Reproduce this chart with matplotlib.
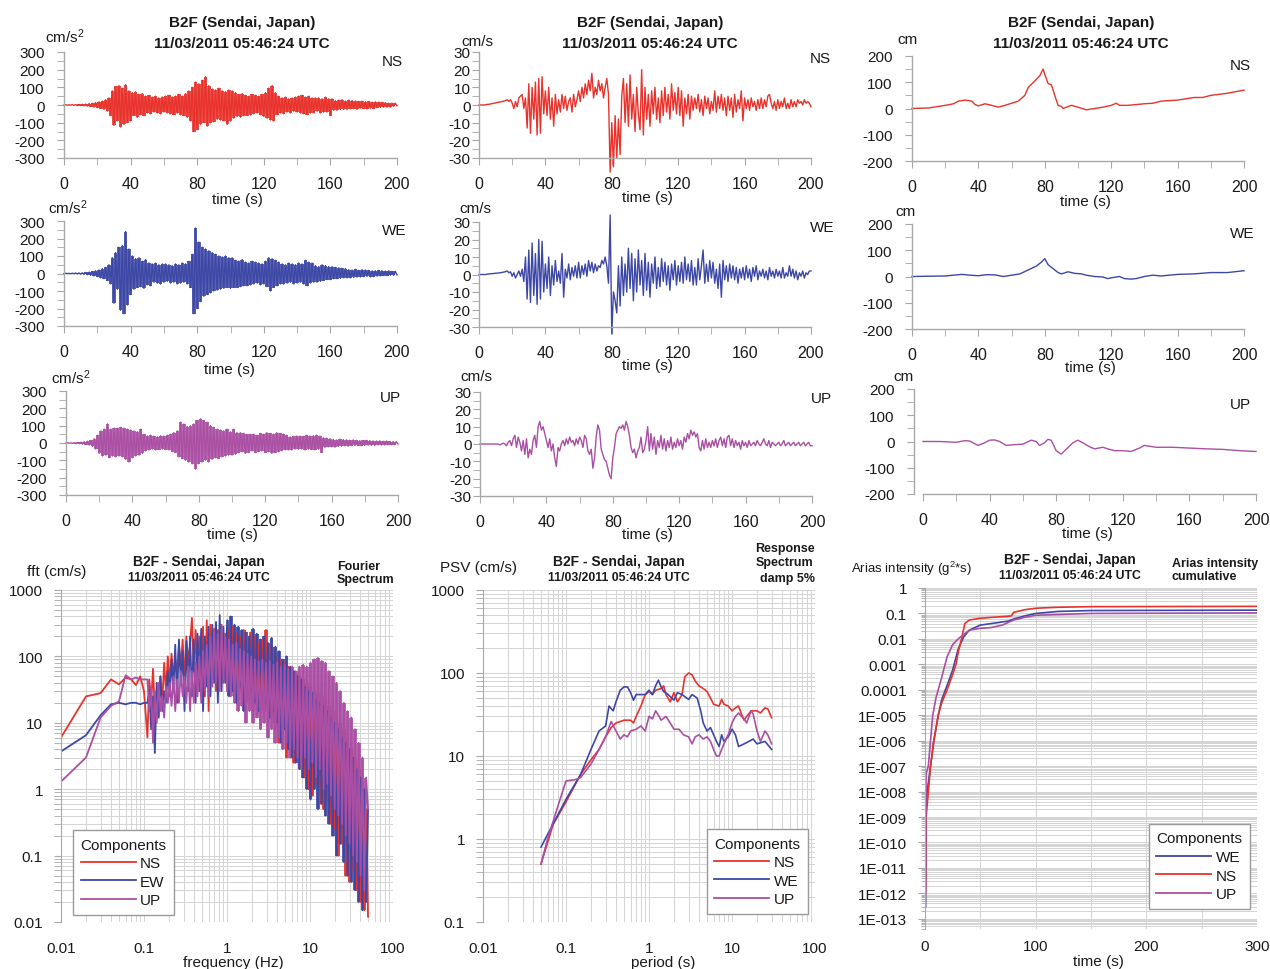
import matplotlib.pyplot as plt
import numpy as np
from matplotlib.ticker import MultipleLocator, LogLocator, NullFormatter, FixedLocator

plt.rcParams['font.family'] = ['Liberation Sans', 'DejaVu Sans']
plt.rcParams['mathtext.default'] = 'regular'
plt.rcParams['axes.unicode_minus'] = False

W, H = 1270, 970
RED = '#e8322b'
BLUE = '#3d48a6'
PURPLE = '#aa4fa3'
GRAY = '#a8a8a8'
TXT = '#1a1a1a'

############################ Data: acceleration (cm/s2), 1 s steps ############################
t_sec = np.arange(201)

acc_ns = [0, 1, -1, 1, -1, 2, -2, 2, -3, 3,
          -3, 4, -5, 5, -6, 8, -9, 10, -12, 14,
          -15, 18, -20, 22, -25, 30, -35, 40, -60, 80,
          -115, 105, -90, 110, -125, 95, -110, 115, -100, 80,
          -90, 70, -60, 75, -70, 60, -55, 65, -60, 50,
          -45, 55, -50, 45, -40, 50, -45, 40, -50, 45,
          -40, 50, -45, 55, -50, 45, -55, 50, -45, 60,
          -55, 50, -60, 65, -70, 80, -90, 100, -150, 130,
          -140, 120, -110, 140, -100, 160, -120, 110, -100, 90,
          -95, 85, -80, 95, -85, 80, -90, 75, -110, 85,
          -90, 80, -75, 70, -65, 60, -70, 65, -60, 55,
          -60, 50, -55, 60, -50, 55, -45, 50, -55, 60,
          -65, 70, -75, 95, -85, 110, -90, 70, -55, 50,
          -45, 40, -50, 45, -40, 35, -45, 40, -35, 45,
          -40, 50, -45, 55, -50, 45, -55, 50, -45, 40,
          -45, 40, -35, 40, -45, 35, -40, 45, -40, 35,
          -60, 35, -30, 25, -30, 28, -25, 30, -25, 22,
          -25, 28, -22, 25, -20, 22, -25, 20, -18, 22,
          -20, 18, -22, 20, -18, 16, -20, 18, -15, 16,
          -14, 15, -12, 14, -12, 10, -12, 10, -8, 10,
          -5]

acc_we = [0, 1, -1, 1, -2, 2, -2, 3, -3, 3,
          -4, 4, -5, 6, -7, 8, -10, 12, -14, 16,
          -18, 20, -24, 28, -30, 35, -40, 50, -60, 90,
          -170, 120, -90, 150, -210, 160, -230, 240, -180, 140,
          -120, 100, -90, 85, -80, 90, -75, 70, -85, 80,
          -65, 60, -70, 55, -50, 60, -55, 50, -60, 55,
          -50, 55, -45, 50, -55, 45, -50, 55, -60, 50,
          -55, 60, -50, 55, -60, 70, -80, 110, -230, 260,
          -200, 180, -160, 150, -130, 140, -120, 130, -110, 120,
          -100, 110, -95, 100, -90, 95, -85, 100, -80, 90,
          -85, 90, -80, 75, -80, 70, -75, 80, -70, 65,
          -70, 60, -65, 70, -60, 65, -55, 60, -65, 55,
          -60, 70, -75, 90, -100, 85, -80, 75, -70, 65,
          -60, 55, -60, 50, -55, 60, -50, 55, -60, 50,
          -55, 60, -50, 55, -60, 75, -70, 65, -55, 60,
          -50, 45, -50, 40, -45, 50, -40, 45, -35, 40,
          -35, 40, -30, 35, -30, 32, -28, 30, -25, 28,
          -25, 22, -25, 20, -22, 24, -20, 18, -20, 22,
          -18, 20, -16, 18, -20, 15, -18, 16, -15, 18,
          -14, 16, -12, 14, -12, 15, -10, 12, -10, 12,
          -8]

acc_up = [0, 1, -1, 1, -2, 2, -3, 3, -4, 5,
          -6, 7, -9, 10, -12, 15, -20, 25, -35, 45,
          -60, 70, -75, 80, -70, 110, -85, 80, -75, 85,
          -80, 85, -75, 90, -80, 85, -95, 80, -110, 75,
          -85, 70, -75, 65, -70, 80, -60, 50, -45, 40,
          -40, 45, -35, 40, -40, 35, -38, 42, -35, 40,
          -38, 45, -40, 50, -50, 60, -55, 70, -80, 120,
          -90, 110, -100, 95, -110, 100, -120, 110, -150, 130,
          -120, 140, -110, 130, -100, 120, -110, 100, -95, 90,
          -85, 80, -90, 75, -80, 70, -75, 80, -70, 65,
          -70, 80, -65, 60, -55, 60, -50, 55, -60, 50,
          -55, 50, -45, 50, -55, 45, -50, 55, -45, 50,
          -55, 60, -50, 55, -60, 50, -55, 60, -50, 55,
          -45, 50, -40, 45, -40, 35, -40, 38, -35, 40,
          -35, 40, -35, 38, -40, 45, -35, 40, -38, 42,
          -40, 45, -35, 40, -55, 30, -25, 28, -22, 25,
          -22, 20, -24, 18, -20, 22, -18, 20, -16, 18,
          -18, 16, -15, 18, -14, 16, -15, 14, -16, 15,
          -14, 15, -12, 14, -13, 12, -14, 12, -10, 13,
          -12, 10, -11, 12, -10, 9, -10, 8, -9, 8,
          -6]

############################ Data: velocity (cm/s), 1 s steps ############################
vel_ns = [0, 0, 0, 0, 0.2, 0.3, 0.4, 0.6, 0.8, 1,
          1.2, 1.4, 1.6, 1.8, 2, 2.2, 2.5, 3, 2, 3,
          1, -2, 2, -1, 4, 5, 6, -2, 4, -13,
          12, -16, 10, -8, 13, -17, 15, -16, 16, -5,
          8, -6, 10, -8, 4, -12, 6, -5, 3, -4,
          6, -2, 5, -3, 2, 4, -4, 6, -1, 3,
          8, 2, 10, 4, 12, 6, 14, 8, 18, 4,
          10, 6, 14, 8, 12, 4, 10, 15, 6, -38,
          -10, -35, -6, -30, -8, -28, 5, 15, -10, 12,
          -12, 17, -8, 6, -15, 10, -5, -14, 20, -17,
          10, -8, 6, -12, 8, -5, 10, -8, 4, -10,
          8, -6, 10, -4, 6, -8, 12, -3, 7, -5,
          10, -6, 8, -12, 4, -5, 6, -8, 5, -3,
          4, -2, 6, -4, 3, -6, 5, -2, 4, -5,
          2, -3, 8, -4, 5, -2, 6, -3, 4, -6,
          5, -3, 4, -7, 6, -4, 3, -2, 8, -9,
          4, -2, 3, -3, 4, -1, 2, -3, 3, -2,
          4, -2, 3, -1, 5, 6, 1, -2, 2, -3,
          3, -2, 2, -1, 4, -2, 1, -2, 3, -1,
          2, -1, 3, 1, 2, 0, 3, 1, 2, 1,
          -1]

vel_we = [0, 0, 0, 0, 0, 0.2, 0.3, 0.4, 0.5, 0.6,
          0.7, 0.8, 0.9, 1, 1.2, 1.4, 1.6, 2, 1, 1.5,
          -1, 1, -2, 0, 2, -1, 3, -4, 10, -14,
          14, -16, 18, -12, 12, -17, 20, -14, 19, -10,
          6, -8, 10, -12, 5, -6, 8, -4, 2, -5,
          12, -13, 3, -2, 6, -3, 4, -1, 5, -2,
          7, -2, 5, 0, 6, -1, 8, 2, 7, 1,
          6, 2, 5, 4, 8, 6, 10, 5, -5, 34,
          -34, -10, -15, -22, 5, -18, 10, -12, 6, -10,
          15, -8, 12, -15, 9, -10, 14, -6, 8, -12,
          12, -9, 7, -13, 6, -5, 10, -8, 4, -7,
          9, -4, 7, -6, 5, -9, 6, -3, 8, -6,
          5, -4, 7, -5, 10, -3, 6, -4, 8, -6,
          4, -6, 9, -3, 5, 14, -5, 6, -4, 8,
          -2, 7, -5, 3, -8, 6, -13, 8, -3, 5,
          -4, 6, -2, 5, -3, 4, -5, 3, -2, 4,
          -3, 5, -2, 3, -4, 4, -1, 5, -3, 2,
          -1, 3, -2, 2, -3, 4, -1, 2, -2, 3,
          -1, 2, -2, 4, -2, 1, -1, 5, -1, 3,
          -2, 2, -3, 1, -1, 2, -2, 1, 0, 2,
          2]

vel_up = [0, 0, 0, 0, 0, 0, 0, 0, 0, 0,
          0, 0, -0.5, 0, 0.5, 0, -1, 1, 2, -1,
          3, 5, -2, 4, 1, -4, 2, -6, 3, -8,
          -3, -6, 2, 5, -2, 10, 13, 8, 10, 6,
          2, -2, 3, -4, 0, -8, -13, -2, -4, 0,
          2, -1, 3, 0, 4, 1, 2, -1, 3, 0,
          4, 2, -2, 5, 3, -4, -6, -3, -14, -8,
          4, 11, 8, -3, -6, -9, -10, -14, -18, -20,
          -8, -2, 6, 8, 10, 9, 11, 8, 13, 10,
          5, -2, -5, -3, -8, -4, -2, 4, -5, -3,
          2, 10, -4, 6, -3, 4, -6, 2, -2, 5,
          -3, 3, -4, 2, -2, 4, -3, 1, -2, 3,
          -1, 2, -3, 4, 1, 6, 3, 8, 5, 7,
          4, 6, -2, -4, 2, -3, 3, -2, 1, -2,
          2, -1, 3, -2, 2, 4, -1, 3, -2, 4,
          5, -1, 3, -2, 2, -1, 1, -3, 2, -1,
          1, -2, 2, -1, 0, 1, -1, 2, 0, -1,
          1, 3, 0, -1, 2, -2, 1, 0, -1, 0,
          1, -1, 0, 2, -1, 0, 1, -1, 0, 1,
          -1, 0, 1, -1, 0, 1, -1, 0, 1, -1,
          -1]

############################ Data: displacement (cm) ############################
t_dns = [0, 10, 20, 25, 28, 32, 36, 38, 40, 44, 48, 52, 56, 60, 64, 68, 70, 74, 77, 79,
         80, 82, 84, 86, 88, 90, 91, 93, 96, 100, 105, 110, 115, 120, 123, 125, 130, 140,
         145, 150, 160, 170, 175, 180, 190, 200]
d_ns = [0, 2, 12, 18, 28, 32, 28, 15, 10, 18, 12, 5, 12, 20, 28, 50, 80, 105, 125, 150,
        130, 95, 90, 50, 12, 8, 0, 5, 12, 5, -5, 0, 5, 12, 20, 12, 12, 18,
        20, 28, 32, 42, 42, 50, 58, 70]

t_dwe = [0, 20, 30, 35, 40, 45, 50, 55, 60, 65, 70, 75, 78, 80, 82, 85, 88, 90, 94, 98,
         102, 105, 110, 115, 118, 120, 125, 128, 132, 135, 140, 145, 150, 160, 170, 180, 190, 200]
d_we = [0, 2, 8, 5, 3, 7, 6, 0, 5, 10, 25, 40, 55, 68, 45, 30, 15, 10, 18, 12,
        10, 5, 0, -2, -8, -5, 0, -8, -10, -8, 0, 5, 2, 8, 10, 15, 15, 22]

t_dup = [0, 10, 20, 25, 28, 33, 36, 40, 43, 46, 50, 55, 60, 65, 68, 70, 73, 75, 77, 80,
         83, 86, 90, 93, 96, 100, 103, 108, 112, 115, 120, 125, 130, 133, 140, 150, 160,
         170, 180, 190, 200]
d_up = [0, 0, -3, 3, 2, -15, -8, 5, 6, 0, -15, -12, -10, 5, 0, -15, -5, 8, 5, -35,
        -48, -30, -5, 5, -5, -20, -28, -22, -30, -35, -35, -38, -25, -15, -22, -22, -25,
        -28, -30, -35, -38]

############################ Data: Fourier spectrum (cm/s) ############################
f_low = [0.01, 0.02, 0.03, 0.04, 0.05, 0.06, 0.07, 0.08, 0.09, 0.10]
f_high = np.geomspace(0.11, 50, 120)   # frequency grid of the sampled values below

fft_ns_low = [6, 25, 28, 45, 38, 48, 45, 37, 50, 30]
fft_ew_low = [3.7, 6.5, 13, 19, 20, 19, 20, 20, 19, 20]
fft_up_low = [1.3, 3, 12, 18, 21, 52, 45, 48, 45, 45]

fft_ns_high = [6, 45, 20, 65, 15, 30, 12, 50, 20, 80, 30, 100,
               40, 110, 50, 90, 60, 150, 70, 180, 40, 200, 80, 150, 380,
               60, 250, 40, 200, 30, 280, 25, 350, 15, 300, 40, 260, 30, 250, 50, 300, 40, 220,
               30, 250, 35, 280, 25, 220, 40, 200, 30, 250, 20, 180, 35, 230,
               15, 200, 25, 160, 20, 180, 15, 250, 20, 150, 12, 130, 10,
               100, 5, 90, 8, 80, 3, 70, 5, 60, 2.5, 55, 3, 50, 2, 45, 1.5, 40,
               1, 35, 0.8, 30, 1.2, 28, 0.6, 25, 0.5, 22, 0.7, 18, 0.3,
               15, 0.25, 12, 0.1, 10, 0.15, 8, 0.05, 6,
               0.04, 4, 0.06, 3, 0.03, 2, 0.02, 1.2, 0.015, 0.5, 0.012]
fft_ew_high = [20, 30, 8, 25, 3.5, 40, 12, 50, 15, 30, 20, 60,
               25, 90, 30, 150, 20, 180, 40, 120, 15, 170, 30, 200, 25,
               180, 20, 220, 30, 260, 15, 200, 35, 280, 25, 300, 40, 330, 20, 420, 30, 280, 40,
               350, 25, 400, 30, 300, 20, 280, 35, 250, 15, 230, 40, 200, 30,
               260, 20, 220, 15, 180, 25, 200, 20, 160, 12, 190, 15, 140,
               10, 120, 5, 90, 8, 100, 4, 70, 3, 60, 2.5, 50, 2, 45, 1.5, 35, 1,
               30, 0.7, 28, 1, 22, 0.5, 20, 0.6, 18, 0.4, 15, 0.3, 12,
               0.2, 10, 0.1, 8, 0.15, 6, 0.08, 5, 0.05,
               4, 0.04, 3, 0.03, 2, 0.02, 1.5, 0.015, 1, 0.02, 0.5]
fft_up_high = [45, 15, 35, 5, 30, 10, 40, 15, 25, 12, 35, 20,
               40, 18, 50, 15, 45, 20, 60, 25, 50, 20, 70, 15, 60,
               20, 80, 25, 100, 20, 120, 30, 150, 25, 200, 35, 250, 40, 220, 30, 260, 45, 200,
               30, 180, 25, 150, 20, 160, 15, 130, 18, 120, 10, 110, 15, 100,
               10, 90, 12, 85, 8, 90, 10, 80, 6, 85, 8, 75, 5,
               80, 6, 70, 4, 75, 5, 65, 3, 70, 4, 60, 3, 70, 2, 75, 3, 70,
               2, 80, 2.5, 90, 1.5, 95, 2, 85, 1, 80, 1.2, 60, 0.8,
               50, 0.5, 40, 0.4, 30, 0.3, 20, 0.2, 15,
               0.15, 12, 0.1, 8, 0.08, 5, 0.05, 3, 0.03, 1.5, 0.5]

############################ Data: response spectrum PSV (cm/s) ############################
T_ns = [0.05, 0.07, 0.1, 0.15, 0.2, 0.25, 0.3, 0.35, 0.4, 0.5, 0.6, 0.65, 0.7, 0.8, 0.9, 1.0,
        1.1, 1.2, 1.4, 1.5, 1.6, 1.8, 2.0, 2.2, 2.5, 2.7, 3.0, 3.3, 3.6, 4, 4.5, 5, 5.5, 6,
        7, 7.5, 8, 9, 10, 11, 12, 13, 14, 15, 17, 20, 22, 25, 27, 30]
psv_ns = [0.5, 1.5, 2.8, 6, 9, 12, 17, 22, 25, 27, 27, 25, 30, 40, 55, 60,
          55, 62, 65, 70, 55, 45, 58, 45, 55, 90, 100, 95, 80, 70, 65, 60, 50, 42,
          40, 48, 42, 40, 35, 38, 40, 32, 27, 30, 35, 35, 33, 38, 37, 29]
T_we = [0.05, 0.1, 0.15, 0.2, 0.25, 0.3, 0.33, 0.37, 0.4, 0.45, 0.5, 0.55, 0.6, 0.65, 0.7,
        0.8, 0.9, 1.0, 1.1, 1.2, 1.3, 1.4, 1.5, 1.7, 2.0, 2.2, 2.5, 3.0, 3.3, 3.8, 4.2, 4.5,
        5, 5.5, 6, 6.5, 7, 7.5, 8, 9, 10, 11, 12, 14, 16, 18, 20, 25, 30]
psv_we = [0.8, 3, 6, 12, 20, 23, 40, 35, 45, 62, 68, 68, 58, 47, 55,
          55, 55, 62, 55, 70, 82, 68, 60, 55, 47, 58, 55, 48, 55, 50, 35, 25,
          20, 22, 18, 15, 13, 18, 15, 17, 21, 18, 13, 14, 15, 16, 14, 15, 12]
T_up = [0.05, 0.06, 0.08, 0.1, 0.13, 0.15, 0.2, 0.25, 0.3, 0.35, 0.4, 0.45, 0.5, 0.55, 0.6,
        0.7, 0.8, 0.9, 1.0, 1.1, 1.2, 1.3, 1.4, 1.6, 1.8, 2.0, 2.3, 2.6, 3, 3.3, 3.6, 4, 4.5,
        5, 5.5, 6, 6.5, 7, 7.5, 8, 9, 10, 11, 12, 13, 14, 15, 17, 18, 20, 22, 25, 27, 30]
psv_up = [0.5, 1, 2.5, 5, 5.2, 5.5, 8, 12, 17, 26, 20, 16, 18, 17, 20,
          21, 23, 20, 30, 28, 35, 31, 27, 30, 25, 21, 21, 18, 17, 14, 17, 18, 16,
          17, 15, 12, 10, 10, 12, 14, 18, 25, 30, 33, 30, 28, 25, 35, 32, 20, 15, 20, 18, 14]

############################ Data: Arias intensity (g2*s) ############################
t_ar_ns = [0.5, 1, 2, 5, 8, 12, 15, 20, 25, 28, 30, 33, 36, 40, 50, 60, 70, 78, 80, 90,
           100, 120, 150, 300]
ar_ns = [1e-12, 1e-9, 3e-9, 1e-7, 1e-6, 1e-5, 3e-5, 1e-4, 4e-4, 1e-3, 3e-3, 1e-2, 4e-2,
         5.5e-2, 6.5e-2, 7e-2, 7.5e-2, 8e-2, 1.1e-1, 1.4e-1, 1.6e-1, 1.75e-1, 1.85e-1, 1.9e-1]
t_ar_we = [0.5, 1, 2, 5, 8, 12, 15, 20, 25, 30, 35, 40, 50, 60, 75, 80, 90, 100, 120, 150, 300]
ar_we = [3e-13, 3e-9, 1e-8, 1e-7, 1e-6, 1e-5, 4e-5, 1.5e-4, 6e-4, 4e-3, 1.2e-2, 2.2e-2,
         3.5e-2, 4e-2, 5e-2, 6e-2, 8e-2, 1e-1, 1.2e-1, 1.3e-1, 1.35e-1]
t_ar_up = [0.3, 1, 3, 5, 7, 10, 12, 15, 20, 25, 30, 35, 40, 50, 60, 70, 80, 90, 100, 150, 300]
ar_up = [3e-13, 5e-8, 1e-7, 1e-6, 1e-5, 5e-5, 1e-4, 3e-4, 2e-3, 6e-3, 1e-2, 1.5e-2, 2.2e-2,
         2.6e-2, 2.8e-2, 3.5e-2, 5.5e-2, 7e-2, 8.5e-2, 1e-1, 1.05e-1]

ar_ticks = [1, 0.1, 0.01, 0.001, 0.0001] + [10.0 ** -k for k in range(5, 14)]
ar_labels = ['1', '0.1', '0.01', '0.001', '0.0001'] + ['1E-%03d' % k for k in range(5, 14)]

##########################################################################################

fig = plt.figure(figsize=(W / 100, H / 100), dpi=100)


def add_ax(x0, x1, ytop, ybot):
    return fig.add_axes([x0 / W, 1 - ybot / H, (x1 - x0) / W, (ybot - ytop) / H])


def ftext(x, y, s, **kw):
    kw.setdefault('color', TXT)
    fig.text(x / W, 1 - y / H, s, **kw)


def dense_band(ax, x, vals, col, where=None):
    # samples alternate up/down; fill between neighbouring samples so the trace reads as a solid band
    v = np.asarray(vals, dtype=float)
    x = np.asarray(x, dtype=float)
    ax.fill_between(x[:-1], np.minimum(v[:-1], v[1:]), np.maximum(v[:-1], v[1:]),
                    where=where, step='post', color=col, lw=0, alpha=0.85)


def style_ts(ax, ymax, ymaj, ymin, ypad, xlo=0):
    ax.set_xlim(xlo, 200)
    ax.set_ylim(-ymax, ymax)
    ax.patch.set_alpha(0)
    for s in ['top', 'right']:
        ax.spines[s].set_visible(False)
    for s in ['left', 'bottom']:
        ax.spines[s].set_color(GRAY)
        ax.spines[s].set_linewidth(1)
    ax.spines['bottom'].set_bounds(0, 200)
    ax.xaxis.set_major_locator(MultipleLocator(40))
    ax.xaxis.set_minor_locator(MultipleLocator(20))
    ax.yaxis.set_major_locator(MultipleLocator(ymaj))
    ax.yaxis.set_minor_locator(MultipleLocator(ymin))
    ax.tick_params(which='both', colors=GRAY, labelcolor=TXT, direction='out')
    ax.tick_params(axis='x', which='both', length=5, labelsize=11.5, pad=8)
    ax.tick_params(axis='y', which='both', length=5, labelsize=11, pad=ypad)


# ---------------- time series panels ----------------
acc_boxes = [(64, 397, 53, 159), (64, 397, 222, 327), (66, 398, 392, 496)]
vel_boxes = [(479, 811, 53, 159), (479, 811, 223, 328), (480, 812, 393, 497)]
dis_boxes = [(912, 1244, 57, 162), (912, 1244, 225, 330), (914, 1256, 390, 495)]

acc_series = [acc_ns, acc_we, acc_up]
vel_series = [vel_ns, vel_we, vel_up]
dis_series = [(t_dns, d_ns), (t_dwe, d_we), (t_dup, d_up)]
colors = [RED, BLUE, PURPLE]
comp = ['NS', 'WE', 'UP']

for i in range(3):
    ax = add_ax(*acc_boxes[i])
    dense_band(ax, t_sec, acc_series[i], colors[i])
    ax.plot(t_sec, acc_series[i], color=colors[i], lw=1.0, clip_on=False)
    style_ts(ax, 300, 100, 50, 9)

    ax = add_ax(*vel_boxes[i])
    ax.plot(t_sec, vel_series[i], color=colors[i], lw=1.0, clip_on=False)
    style_ts(ax, 30, 10, 5, 1)

    ax = add_ax(*dis_boxes[i])
    ax.plot(dis_series[i][0], dis_series[i][1], color=colors[i], lw=1.0, clip_on=False)
    style_ts(ax, 200, 100, 50, 9, xlo=-5.4 if i == 2 else 0)

# unit labels, component names, axis labels
acc_unit = [(65, 37), (68, 208), (71, 378)]
vel_unit = [(477, 42), (475, 209), (476, 377)]
dis_unit = [(907, 40), (905, 212), (903, 377)]
acc_comp = [(392, 62), (394, 231), (390, 398)]
vel_comp = [(820, 59), (822, 228), (821, 399)]
dis_comp = [(1240, 66), (1242, 234), (1240, 405)]
acc_xl = [(237, 200), (229, 370), (232, 535)]
vel_xl = [(647, 198), (647, 366), (647, 535)]
dis_xl = [(1085, 202), (1090, 368), (1087, 534)]

for i in range(3):
    ftext(*acc_unit[i], 'cm/s$^2$', fontsize=11, ha='center', va='center')
    ftext(*vel_unit[i], 'cm/s', fontsize=11, ha='center', va='center')
    ftext(*dis_unit[i], 'cm', fontsize=11, ha='center', va='center')
    for pos in (acc_comp[i], vel_comp[i], dis_comp[i]):
        ftext(*pos, comp[i], fontsize=11, ha='center', va='center')
    for pos in (acc_xl[i], vel_xl[i], dis_xl[i]):
        ftext(*pos, 'time (s)', fontsize=11, ha='center', va='center')

for cx in (242, 650, 1081):
    ftext(cx, 23, 'B2F (Sendai, Japan)', fontsize=11, fontweight='bold', ha='center', va='center')
    ftext(cx, 44, '11/03/2011 05:46:24 UTC', fontsize=11, fontweight='bold', ha='center', va='center')


# ---------------- bottom panels ----------------
def style_log(ax):
    ax.patch.set_alpha(0)
    for s in ['top', 'right', 'bottom']:
        ax.spines[s].set_visible(False)
    ax.spines['left'].set_color(GRAY)
    ax.grid(True, which='both', color='#d4d4d4', lw=0.7)
    ax.set_axisbelow(True)
    ax.tick_params(which='both', colors=GRAY, labelcolor=TXT)
    ax.tick_params(axis='x', which='both', length=0, labelsize=11, pad=14)
    ax.tick_params(axis='y', which='both', length=5, labelsize=11, pad=8)


def legend(ax, labels, handles, anchor, loc):
    leg = ax.legend(handles, labels, title='Components', loc=loc, bbox_to_anchor=anchor,
                    fontsize=11, title_fontsize=11, frameon=True, fancybox=False,
                    handlelength=3.6, handletextpad=0.3, borderpad=0.5, labelspacing=0.3,
                    borderaxespad=0, alignment='left', framealpha=1)
    leg.get_frame().set_edgecolor('#9a9a9a')
    leg.get_frame().set_linewidth(1)
    for txt in leg.get_texts():
        txt.set_color(TXT)
    leg.get_title().set_color(TXT)
    for ln in leg.get_lines():
        ln.set_linewidth(1.3)


# Fourier spectrum
ax = add_ax(61, 393, 591, 923)
f_all = np.concatenate([f_low, f_high])
dense = f_all[:-1] >= 1.0   # above 1 Hz the spectrum lines are packed into a solid band
handles = []
for vals, col in ((fft_ns_low + fft_ns_high, RED),
                  (fft_ew_low + fft_ew_high, BLUE),
                  (fft_up_low + fft_up_high, PURPLE)):
    dense_band(ax, f_all, vals, col, where=dense)
    ln, = ax.plot(f_all, vals, color=col, lw=1.3)
    handles.append(ln)
ax.set_xscale('log')
ax.set_yscale('log')
ax.set_xlim(0.01, 100)
ax.set_ylim(0.01, 1000)
ax.set_xticks([0.01, 0.1, 1, 10, 100], ['0.01', '0.1', '1', '10', '100'])
ax.set_yticks([0.01, 0.1, 1, 10, 100, 1000], ['0.01', '0.1', '1', '10', '100', '1000'])
style_log(ax)
legend(ax, ['NS', 'EW', 'UP'], handles, (0.036, 0.021), 'lower left')
ftext(233, 963, 'frequency (Hz)', fontsize=11, ha='center', va='center')
ftext(57, 572, 'fft (cm/s)', fontsize=11, ha='center', va='center')
ftext(199, 562, 'B2F - Sendai, Japan', fontsize=10, fontweight='bold', ha='center', va='center')
ftext(199, 578, '11/03/2011 05:46:24 UTC', fontsize=8.8, fontweight='bold', ha='center', va='center')
ftext(337, 567, 'Fourier', fontsize=9, fontweight='bold', ha='left', va='center')
ftext(337, 580, 'Spectrum', fontsize=9, fontweight='bold', ha='left', va='center')

# Response spectrum
ax = add_ax(483, 815, 591, 923)
l1, = ax.plot(T_ns, psv_ns, color=RED, lw=1.2)
l2, = ax.plot(T_we, psv_we, color=BLUE, lw=1.2)
l3, = ax.plot(T_up, psv_up, color=PURPLE, lw=1.2)
ax.set_xscale('log')
ax.set_yscale('log')
ax.set_xlim(0.01, 100)
ax.set_ylim(0.1, 1000)
ax.set_xticks([0.01, 0.1, 1, 10, 100], ['0.01', '0.1', '1', '10', '100'])
ax.set_yticks([0.1, 1, 10, 100, 1000], ['0.1', '1', '10', '100', '1000'])
style_log(ax)
legend(ax, ['NS', 'WE', 'UP'], [l1, l2, l3], (0.979, 0.024), 'lower right')
ftext(663, 963, 'period (s)', fontsize=11, ha='center', va='center')
ftext(478, 568, 'PSV (cm/s)', fontsize=11, ha='center', va='center')
ftext(619, 562, 'B2F - Sendai, Japan', fontsize=10, fontweight='bold', ha='center', va='center')
ftext(619, 578, '11/03/2011 05:46:24 UTC', fontsize=8.8, fontweight='bold', ha='center', va='center')
ftext(815, 549, 'Response', fontsize=9, fontweight='bold', ha='right', va='center')
ftext(813, 563, 'Spectrum', fontsize=9, fontweight='bold', ha='right', va='center')
ftext(815, 579, 'damp 5%', fontsize=9, fontweight='bold', ha='right', va='center')

# Arias intensity
ax = add_ax(925, 1257, 589, 930)
l2, = ax.plot(t_ar_we, ar_we, color=BLUE, lw=1.2)
l1, = ax.plot(t_ar_ns, ar_ns, color=RED, lw=1.2)
l3, = ax.plot(t_ar_up, ar_up, color=PURPLE, lw=1.2)
ax.set_yscale('log')
ax.set_xlim(0, 300)
ax.set_ylim(10 ** -13.4, 1)
ax.set_xticks([0, 100, 200, 300])
ax.xaxis.set_minor_locator(FixedLocator([50, 150, 250]))
ax.set_yticks(ar_ticks, ar_labels)
ax.yaxis.set_minor_locator(LogLocator(base=10, subs=np.arange(2, 10), numticks=40))
ax.yaxis.set_minor_formatter(NullFormatter())
style_log(ax)
ax.tick_params(axis='x', which='both', pad=7)
ax.tick_params(axis='y', which='minor', length=3)
legend(ax, ['WE', 'NS', 'UP'], [l2, l1, l3], (0.979, 0.059), 'lower right')
ftext(1098, 962, 'time (s)', fontsize=11, ha='center', va='center')
ftext(911, 569, 'Arias intensity (g$^2$*s)', fontsize=9.5, ha='center', va='center')
ftext(1070, 560, 'B2F - Sendai, Japan', fontsize=10, fontweight='bold', ha='center', va='center')
ftext(1070, 576, '11/03/2011 05:46:24 UTC', fontsize=8.8, fontweight='bold', ha='center', va='center')
ftext(1172, 564, 'Arias intensity', fontsize=9, fontweight='bold', ha='left', va='center')
ftext(1172, 577, 'cumulative', fontsize=9, fontweight='bold', ha='left', va='center')

fig.savefig('out.png', dpi=100)
